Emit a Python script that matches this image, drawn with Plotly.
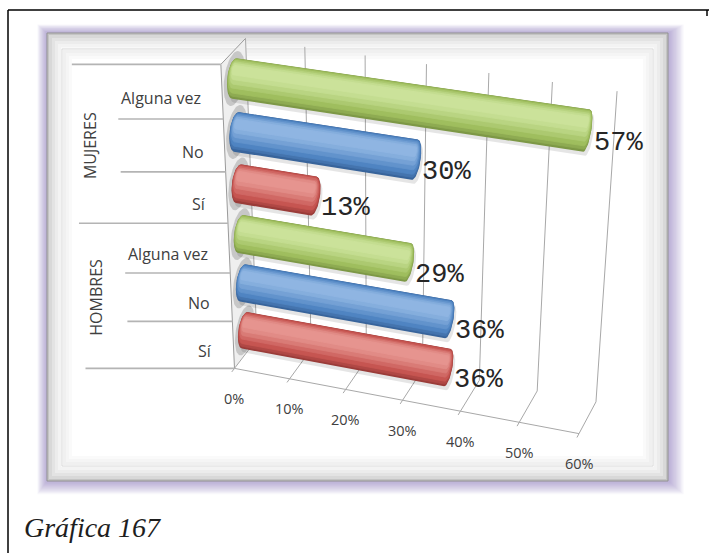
import numpy as np
import plotly.graph_objects as go

# ---- data -------------------------------------------------------------
groups = ["MUJERES", "HOMBRES"]
categories = ["Alguna vez", "No", "Sí"]
mujeres = [57, 30, 13]          # % per category
hombres = [29, 36, 36]          # % per category
tick_values = [0, 10, 20, 30, 40, 50, 60]
tick_labels = ["0%", "10%", "20%", "30%", "40%", "50%", "60%"]
caption = "Gráfica 167"

# ---- styles -----------------------------------------------------------
cat_colors = {
    "Alguna vez": ("#7d9846", "#9fbe5e", "#cbe29a"),
    "No": ("#38649b", "#4f84c2", "#8fb5e2"),
    "Sí": ("#9a3c39", "#c65551", "#e6948f"),
}
W, H = 709, 553
VMAX = 60.0

# ---- 3-D projection ---------------------------------------------------
# world coords: X = value / VMAX, Y = depth (0 front, 1 back), Z = height (0..1)
anchors = [
    ((0.0, 0, 0), (239, 363)), ((1/6, 0, 0), (292, 378)), ((2/6, 0, 0), (347, 389)),
    ((3/6, 0, 0), (403, 401)), ((4/6, 0, 0), (460, 413)), ((5/6, 0, 0), (519, 425)),
    ((1.0, 0, 0), (577, 438)),
    ((0.0, 1, 1), (250, 39)), ((1/6, 1, 1), (307, 47)), ((2/6, 1, 1), (366, 55)),
    ((3/6, 1, 1), (427, 63)), ((4/6, 1, 1), (488, 73)), ((5/6, 1, 1), (552, 82)),
    ((1.0, 1, 1), (617, 92)),
    ((0.0, 1, 0), (252, 344)), ((1/6, 1, 0), (308, 354)), ((5/6, 1, 0), (538, 385)),
    ((1.0, 1, 0), (597, 398)),
    ((0, 0, 1), (217, 65)), ((0, 0, 5/6), (221, 119)), ((0, 0, 4/6), (224, 173)),
    ((0, 0, 3/6), (227, 223)), ((0, 0, 2/6), (231, 272)), ((0, 0, 1/6), (234, 318)),
]


def fit_camera(pairs):
    rows = []
    for (X, Y, Z), (u, w) in pairs:
        u = (u - 350) / 300.0
        w = (w - 250) / 300.0
        rows.append([X, Y, Z, 1, 0, 0, 0, 0, -u * X, -u * Y, -u * Z, -u])
        rows.append([0, 0, 0, 0, X, Y, Z, 1, -w * X, -w * Y, -w * Z, -w])
    _, _, vt = np.linalg.svd(np.array(rows, dtype=float))
    return vt[-1].reshape(3, 4)


P = fit_camera(anchors)


def project(X, Y, Z):
    X, Y, Z = np.broadcast_arrays(np.asarray(X, float), np.asarray(Y, float), np.asarray(Z, float))
    p = P @ np.stack([X.ravel(), Y.ravel(), Z.ravel(), np.ones(X.size)])
    return p[0] / p[2] * 300 + 350, p[1] / p[2] * 300 + 250


def convex_hull(pts):
    pts = sorted(map(tuple, pts))

    def cross(o, a, b):
        return (a[0] - o[0]) * (b[1] - o[1]) - (a[1] - o[1]) * (b[0] - o[0])

    lower, upper = [], []
    for p in pts:
        while len(lower) >= 2 and cross(lower[-2], lower[-1], p) <= 0:
            lower.pop()
        lower.append(p)
    for p in reversed(pts):
        while len(upper) >= 2 and cross(upper[-2], upper[-1], p) <= 0:
            upper.pop()
        upper.append(p)
    h = lower[:-1] + upper[:-1]
    return [q[0] for q in h], [q[1] for q in h]


def ring(x, dc, hc, rd, rh, n=60):
    t = np.linspace(0, 2 * np.pi, n, endpoint=False)
    return project(np.full(n, x), dc + rd * np.cos(t), hc + rh * np.sin(t))


def tube(x0, x1, dc, hc, rd, rh):
    ax, ay = ring(x0, dc, hc, rd, rh)
    bx, by = ring(x1, dc, hc, rd, rh)
    pts = np.stack([np.concatenate([ax, bx]), np.concatenate([ay, by])], 1)
    return convex_hull(pts)


def mix(c1, c2, t):
    a = [int(c1[i:i + 2], 16) for i in (1, 3, 5)]
    b = [int(c2[i:i + 2], 16) for i in (1, 3, 5)]
    return "#" + "".join(f"{round(x + (y - x) * t):02x}" for x, y in zip(a, b))


fig = go.Figure()
shapes = []
annotations = []


def poly(xs, ys, color, width=0, line_color=None):
    xs = list(xs) + [xs[0]]
    ys = list(ys) + [ys[0]]
    fig.add_trace(go.Scatter(x=xs, y=ys, mode="lines", fill="toself", fillcolor=color,
                             line=dict(width=width, color=line_color or color),
                             hoverinfo="skip", showlegend=False))


def seg(xs, ys, color, width=1.0, dash=None):
    fig.add_trace(go.Scatter(x=xs, y=ys, mode="lines",
                             line=dict(width=width, color=color, dash=dash),
                             hoverinfo="skip", showlegend=False))


# ---- page border & chart frame ---------------------------------------
shapes.append(dict(type="line", x0=8, y0=10, x1=W, y1=10, line=dict(color="black", width=1.5)))
shapes.append(dict(type="line", x0=8, y0=10, x1=8, y1=H, line=dict(color="black", width=1.5)))
shapes.append(dict(type="line", x0=707, y0=10, x1=707, y1=16, line=dict(color="black", width=1.5)))

fx0, fy0, fx1, fy1 = 47, 33, 668, 481
for i in range(12, 0, -1):
    shapes.append(dict(type="rect", x0=fx0 - 0.8 * i, y0=fy0 - 0.7 * i, x1=fx1 + 1.3 * i,
                       y1=fy1 + 1.1 * i, fillcolor="rgba(120,100,170,0.05)", line=dict(width=0)))
shapes.append(dict(type="rect", x0=fx0, y0=fy0, x1=fx1, y1=fy1, fillcolor="#c4c4c4",
                   line=dict(color="#939393", width=1)))
for k, c in enumerate(["#d8d8d8", "#e3e3e3", "#ececec", "#f3f3f3", "#f8f8f8"]):
    m = 2 + k * 3
    shapes.append(dict(type="rect", x0=fx0 + m, y0=fy0 + m, x1=fx1 - m, y1=fy1 - m,
                       fillcolor=c, line=dict(width=0)))
shapes.append(dict(type="rect", x0=62, y0=49, x1=653, y1=466, fillcolor="white",
                   line=dict(color="#dadada", width=1)))
for k, c in enumerate(["#f0f0f0", "#f5f5f5", "#fafafa"]):
    shapes.append(dict(type="rect", x0=63 + 3 * k, y0=50 + 3 * k, x1=652 - 3 * k, y1=465 - 3 * k,
                       fillcolor=c, line=dict(width=0)))
shapes.append(dict(type="rect", x0=72, y0=59, x1=643, y1=456, fillcolor="white", line=dict(width=0)))

# ---- walls & floor ---------------------------------------------------
# side wall (X = 0)
wx, wy = project([0, 0, 0, 0], [0, 1, 1, 0], [1, 1, 0, 0])
poly(wx, wy, "#efefef")

# back-wall gridlines and floor lines
GRID = "#a8a8a8"
for tv in tick_values:
    X = tv / VMAX
    gx, gy = project([X, X], [1, 1], [0, 1])
    seg(gx, gy, GRID, 1)
    fx, fy = project([X, X], [0, 1], [0, 0])
    seg(fx, fy, GRID, 1)
    tx, ty = project([X, X], [0, -0.12], [0, 0])
    seg(tx, ty, GRID, 1)
ex, ey = project(np.linspace(0, 1, 20), 0, 0)
seg(ex, ey, GRID, 1)

# side wall outline
ox, oy = project([0, 0, 0], [1, 0, 0], [1, 1, 0])
seg(ox, oy, "#9a9a9a", 1)

# ---- category table on the left ----------------------------------------
rows = []  # bottom -> top
for gi, (g, vals) in enumerate(zip(groups[::-1], [hombres, mujeres])):
    for ci in range(len(categories) - 1, -1, -1):
        rows.append((g, categories[ci], vals[ci]))
n_rows = len(rows)
band = 1.0 / n_rows

for k in range(n_rows + 1):
    hx, hy = project(0, 0, k * band)
    length = 149 if k % len(categories) == 0 else 105
    seg([hx[0] - length, hx[0]], [hy[0], hy[0]], "#b4b4b4", 1.6)

for k, (g, c, v) in enumerate(rows):
    cx, cy = project(0, 0, (k + 0.5) * band)
    annotations.append(dict(x=cx[0] - 19, y=cy[0] + 6, text=c, showarrow=False,
                            xanchor="right", yanchor="middle",
                            font=dict(family="Open Sans", size=16, color="#404040")))

for gi, g in enumerate(groups[::-1]):
    hc = (gi + 0.5) * len(categories) * band
    gx, gy = project(0, 0, hc)
    annotations.append(dict(x=gx[0] - 135, y=gy[0], text=g, showarrow=False, textangle=-90,
                            xanchor="center", yanchor="middle",
                            font=dict(family="Open Sans", size=16, color="#404040")))

# ---- value axis tick labels ---------------------------------------------
for tv, tl in zip(tick_values, tick_labels):
    tx, ty = project(tv / VMAX, 0, 0)
    annotations.append(dict(x=tx[0], y=ty[0] + 30, text=tl, showarrow=False,
                            xanchor="center", yanchor="middle",
                            font=dict(family="Open Sans", size=14.5, color="#404040")))

# ---- cylinders --------------------------------------------------------------
DC, RD, RH = 0.5, 0.3, 0.057
# shading layers: (radius scale, upward shift in radii, colour blend position 0=dark..2=light)
LAYERS = [(1.0, 0.0, 0.0), (0.93, 0.06, 0.5), (0.84, 0.13, 1.0), (0.7, 0.22, 1.3),
          (0.55, 0.3, 1.6), (0.4, 0.38, 1.85), (0.25, 0.44, 2.0)]


def shade(cols, pos):
    dark, mid, light = cols
    return mix(dark, mid, pos) if pos <= 1 else mix(mid, light, pos - 1)


for k, (g, c, v) in enumerate(rows):
    hc = (k + 0.5) * band
    sx, sy = ring(0, DC, hc, RD * 1.45, RH * 1.35)
    poly(sx, sy, "rgba(150,150,150,0.45)")

for k in range(n_rows - 1, -1, -1):
    g, c, v = rows[k]
    cols = cat_colors[c]
    hc = (k + 0.5) * band
    X = v / VMAX
    hx, hy = tube(0, X, DC, hc, RD, RH)
    poly([x + 2 for x in hx], [y + 4 for y in hy], "rgba(0,0,0,0.10)")
    for li, (s, up, pos) in enumerate(LAYERS):
        hx, hy = tube(0, X, DC, hc + up * RH, RD * s, RH * s)
        col = shade(cols, pos)
        poly(hx, hy, col, 0 if li == 0 else 0.8, col)

    ex_, ey_ = project(X, DC, hc)
    annotations.append(dict(x=ex_[0] + 5, y=ey_[0] + 12, text=f"{v}%", showarrow=False,
                            xanchor="left", yanchor="middle",
                            font=dict(family="Liberation Mono", size=27, color="#262626")))

# ---- caption ------------------------------------------------------------------
annotations.append(dict(x=22, y=527, text=f"<i>{caption}</i>", showarrow=False,
                        xanchor="left", yanchor="middle",
                        font=dict(family="Liberation Serif", size=28, color="#1e1e1e")))

fig.update_layout(
    width=W, height=H, margin=dict(l=0, r=0, t=0, b=0),
    paper_bgcolor="white", plot_bgcolor="white",
    xaxis=dict(range=[0, W], visible=False, fixedrange=True),
    yaxis=dict(range=[H, 0], visible=False, fixedrange=True),
    shapes=[dict(s, layer="below") for s in shapes],
    annotations=annotations,
    showlegend=False,
)

fig.write_html("out.html")
